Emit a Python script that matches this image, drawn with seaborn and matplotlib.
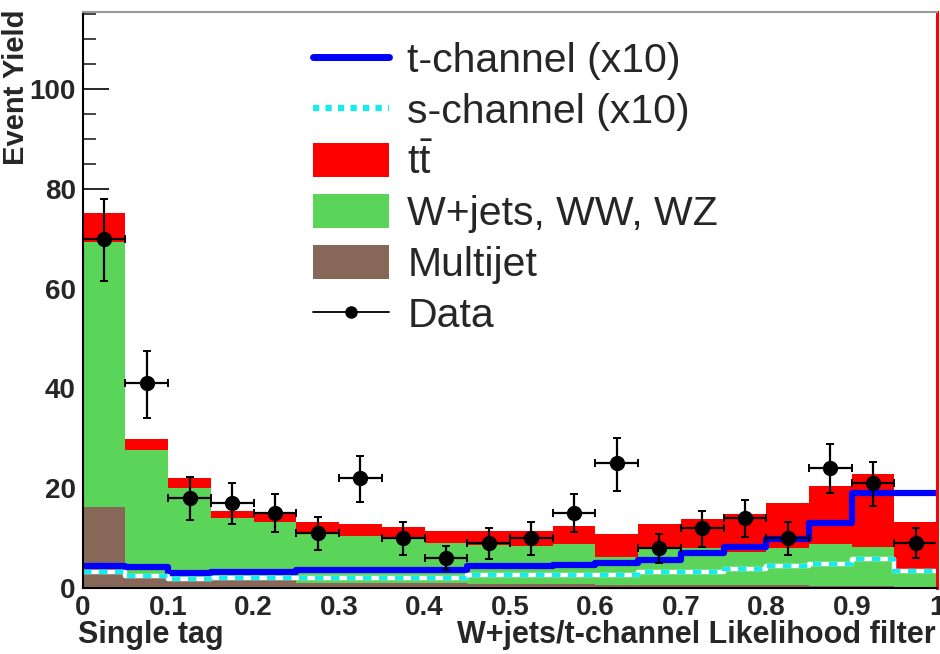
import numpy as np
import pandas as pd
import matplotlib
matplotlib.use("Agg")
import matplotlib.pyplot as plt
import seaborn as sns
from matplotlib.lines import Line2D
from matplotlib.patches import Patch
from matplotlib.ticker import MultipleLocator

# ---- data (20 bins, 0..1, width 0.05) ----
bin_edges = np.round(np.arange(0, 1.0001, 0.05), 3)
bin_centers = (bin_edges[:-1] + bin_edges[1:]) / 2

multijet = [16.3, 2.2, 1.6, 1.5, 1.5, 1.0, 1.0, 0.9, 0.9, 0.8,
            0.7, 0.7, 0.6, 0.6, 0.6, 0.5, 0.5, 0.4, 0.4, 0.2]
wjets = [53.1, 25.5, 18.4, 12.5, 11.8, 9.8, 9.5, 9.2, 8.1, 7.8,
         7.8, 8.1, 5.7, 7.2, 7.5, 6.8, 7.6, 8.4, 7.9, 3.5]
ttbar = [5.8, 2.2, 2.1, 1.5, 2.0, 2.5, 2.3, 2.2, 2.5, 2.9,
         3.0, 3.7, 4.5, 5.0, 5.8, 7.5, 9.0, 11.7, 14.5, 9.6]
tchan_x10 = [4.4, 4.1, 3.0, 3.2, 3.2, 3.6, 3.6, 3.6, 3.6, 4.3,
             4.3, 4.6, 5.1, 5.7, 7.1, 8.3, 9.8, 13.0, 19.0, 19.0]
schan_x10 = [3.2, 2.4, 1.8, 2.0, 2.0, 1.9, 1.9, 1.9, 1.9, 2.5,
             2.5, 2.5, 2.5, 3.1, 3.1, 3.8, 4.4, 4.8, 5.9, 3.3]
data = [70, 41, 18, 17, 15, 11, 22, 10, 6, 9,
        10, 15, 25, 8, 12, 14, 10, 24, 21, 9]
data_err_up = [8.0, 6.5, 4.2, 4.0, 3.8, 3.3, 4.5, 3.2, 2.5, 3.0,
               3.2, 3.9, 5.0, 2.8, 3.5, 3.7, 3.2, 4.8, 4.3, 3.0]
data_err_down = [8.5, 7.0, 4.4, 4.2, 3.8, 3.3, 4.7, 3.3, 2.4, 3.1,
                 3.3, 3.8, 5.5, 2.9, 3.7, 3.8, 3.3, 5.0, 4.5, 3.0]

labels = ["t$\\bar{\\rm t}$", "W+jets, WW, WZ", "Multijet"]
colors = {"ttbar": "#ff0000", "wjets": "#5ad55a", "multijet": "#876858"}

df = pd.DataFrame({
    "x": np.concatenate([bin_centers] * 3),
    "w": np.concatenate([ttbar, wjets, multijet]),
    "proc": ["ttbar"] * 20 + ["wjets"] * 20 + ["multijet"] * 20,
})

sns.set_style("white")
plt.rcParams["font.family"] = ["Liberation Sans", "DejaVu Sans"]
plt.rcParams["mathtext.fontset"] = "custom"
plt.rcParams["mathtext.rm"] = "Liberation Sans"

fig = plt.figure(figsize=(9.4, 6.54), dpi=100)
ax = fig.add_axes([0.088, 0.101, 0.909, 0.881])

sns.histplot(data=df, x="x", weights="w", hue="proc",
             hue_order=["ttbar", "wjets", "multijet"],
             palette=colors, binwidth=0.05, binrange=(0, 1),
             multiple="stack", element="bars", linewidth=0, alpha=1,
             legend=False, ax=ax)

# signal step lines
step_x = bin_edges
t_y = np.append(tchan_x10, tchan_x10[-1])
s_y = np.append(schan_x10, schan_x10[-1])
sns.lineplot(x=step_x, y=t_y, drawstyle="steps-post", color="#0000ff",
             lw=4.5, ax=ax, sort=False, zorder=4)
sns.lineplot(x=step_x, y=s_y, drawstyle="steps-post", color="white",
             lw=3.2, ax=ax, sort=False, zorder=5)
ax.plot(step_x, s_y, drawstyle="steps-post", color="#14ecf0", lw=3.2,
        dashes=(1.9, 1.7), zorder=6)

# data
ax.errorbar(bin_centers, data, yerr=[data_err_down, data_err_up], xerr=0.025,
            fmt="o", color="black", ms=10, elinewidth=1.6, capsize=3,
            capthick=1.4, zorder=7)

ax.set_xlim(0, 1)
ax.set_ylim(0, 115.5)
ax.set_xlabel("")
ax.set_ylabel("")

ax.yaxis.set_major_locator(MultipleLocator(20))
ax.yaxis.set_minor_locator(MultipleLocator(5))
ax.xaxis.set_major_locator(MultipleLocator(0.1))
ax.xaxis.set_minor_locator(MultipleLocator(0.02))
ax.tick_params(axis="y", which="major", direction="in", length=19, width=1.4,
               left=True, right=False, labelsize=20, pad=5)
ax.tick_params(axis="y", which="minor", direction="in", length=9, width=1.2,
               left=True, right=False)
ax.tick_params(axis="x", which="major", direction="in", length=13, width=1.4,
               bottom=True, top=False, labelsize=20, pad=5)
ax.tick_params(axis="x", which="minor", direction="in", length=5, width=1.2,
               bottom=True, top=False)
ax.set_xticks(np.round(np.arange(0, 1.01, 0.1), 1))
ax.set_xticklabels(["0", "0.1", "0.2", "0.3", "0.4", "0.5", "0.6", "0.7",
                    "0.8", "0.9", "1"])
for lab in ax.get_xticklabels() + ax.get_yticklabels():
    lab.set_fontweight("bold")

for side in ["left", "bottom"]:
    ax.spines[side].set_color("black")
    ax.spines[side].set_linewidth(1.5)
ax.spines["top"].set_color("#999999")
ax.spines["top"].set_linewidth(1.5)
ax.spines["right"].set_color("#ff0000")
ax.spines["right"].set_linewidth(2.2)
for s in ax.spines.values():
    s.set_zorder(10)

fig.text(0.002, 0.985, "Event Yield", rotation=90, ha="left", va="top",
         fontsize=21, fontweight="bold")
fig.text(0.083, 0.029, "Single tag", ha="left", va="center",
         fontsize=22, fontweight="bold")
fig.text(0.995, 0.029, "W+jets/t-channel Likelihood filter", ha="right",
         va="center", fontsize=22, fontweight="bold")

handles = [
    Line2D([], [], color="#0000ff", lw=5),
    Line2D([], [], color="#14ecf0", lw=4.5, dashes=(1.0, 1.0)),
    Patch(facecolor=colors["ttbar"], edgecolor="none"),
    Patch(facecolor=colors["wjets"], edgecolor="none"),
    Patch(facecolor=colors["multijet"], edgecolor="none"),
    Line2D([], [], color="black", marker="o", ms=8, lw=1.3),
]
leg_labels = ["t-channel (x10)", "s-channel (x10)"] + labels + ["Data"]
leg = ax.legend(handles, leg_labels, loc="upper left",
                bbox_to_anchor=(0.269, 0.949), frameon=False, fontsize=29.5,
                handlelength=1.86, handleheight=0.9, labelspacing=0.29,
                handletextpad=0.45, borderaxespad=0, borderpad=0)

fig.savefig("out.png", dpi=100)
